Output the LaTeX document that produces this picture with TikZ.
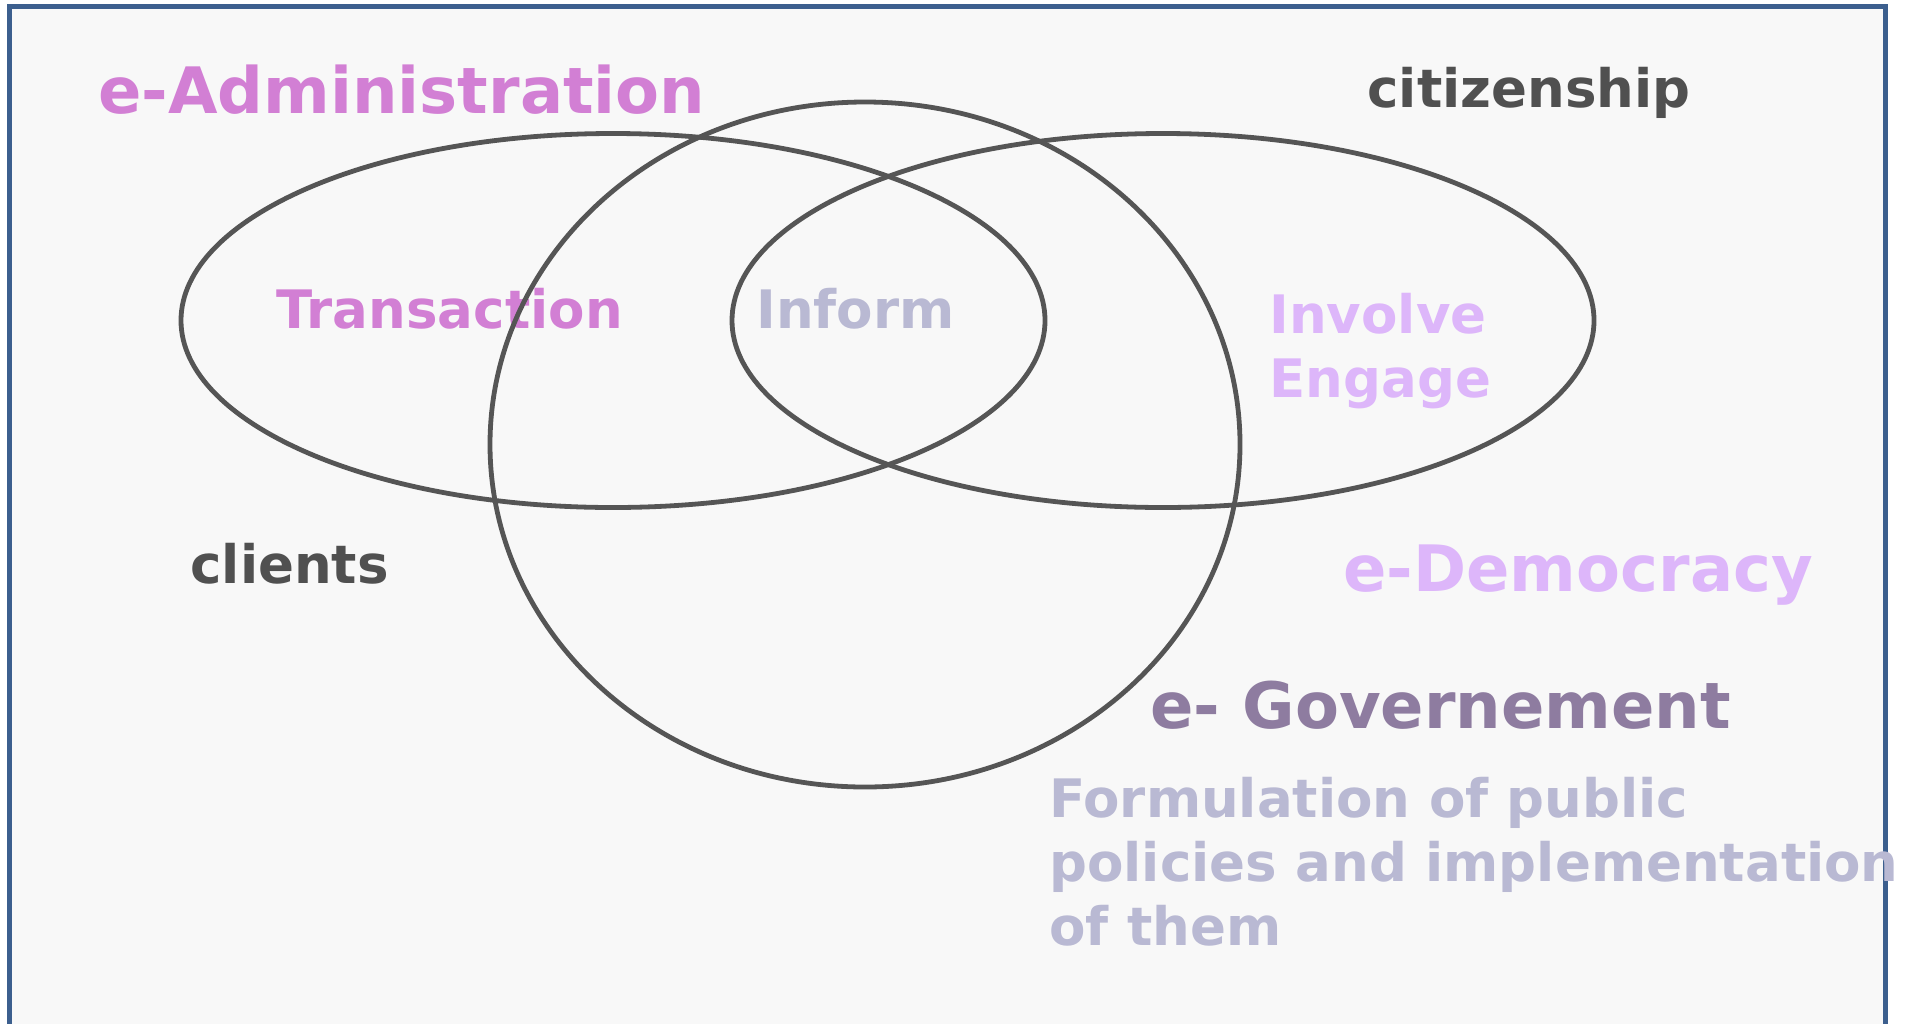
\documentclass[tikz,border=0pt]{standalone}
\usepackage{fontspec}
\setmainfont{DejaVu Sans}
\usetikzlibrary{shapes.geometric,backgrounds}

\definecolor{admincol}{HTML}{D27FD4}
\definecolor{informcol}{HTML}{B9B9D3}
\definecolor{democol}{HTML}{DDB6FA}
\definecolor{govcol}{HTML}{8E7CA0}
\definecolor{darktext}{HTML}{505050}
\definecolor{linecol}{HTML}{555555}
\definecolor{bordercol}{HTML}{3C5F8E}
\definecolor{bgcol}{HTML}{F8F8F8}

\begin{document}
\begin{tikzpicture}[x=0.5pt,y=-0.5pt,
    big/.style={anchor=base west, inner sep=0pt, font=\bfseries\fontsize{32}{32}\selectfont},
    small/.style={anchor=base west, inner sep=0pt, font=\bfseries\fontsize{26.5}{32}\selectfont},
    ring/.style={ellipse, draw=linecol, line width=2.4pt, inner sep=0pt, fill=none}]

    \useasboundingbox (0,0) rectangle (1914,1023);

    \begin{scope}[on background layer]
    \clip (0,0) rectangle (1914,1023);
    \fill[bgcol] (9.5,6.5) rectangle (1885,1040);
    \draw[bordercol, line width=2.5pt] (9.5,1040) -- (9.5,6.5) -- (1885,6.5) -- (1885,1040);
    \end{scope}

    \node[big, admincol] (eadmin) at (98,113) {e-Administration};
    \node[small, darktext] (citizen) at (1367,107) {citizenship};
    \node[small, admincol] (trans) at (276,328) {Transaction};
    \node[small, informcol] (inform) at (756,328) {Inform};
    \node[small, democol] (involve) at (1269,333) {Involve};
    \node[small, democol] (engage) at (1269,397) {Engage};
    \node[small, darktext] (clients) at (190,583) {clients};
    \node[big, democol] (edemo) at (1343,591) {e-Democracy};
    \node[big, govcol] (egov) at (1150,728) {e- Governement};
    \node[small, informcol, align=left] (formul) at (1049,945)
        {Formulation of public\\policies and implementation\\of them};

    % the three sets
    \node[ring, minimum width=432pt, minimum height=187pt] (admin) at (613,320.5) {};
    \node[ring, minimum width=375pt, minimum height=342.5pt] (gov) at (865,444.5) {};
    \node[ring, minimum width=431pt, minimum height=187pt] (demo) at (1163,320.5) {};
    %
\end{tikzpicture}
\end{document}
